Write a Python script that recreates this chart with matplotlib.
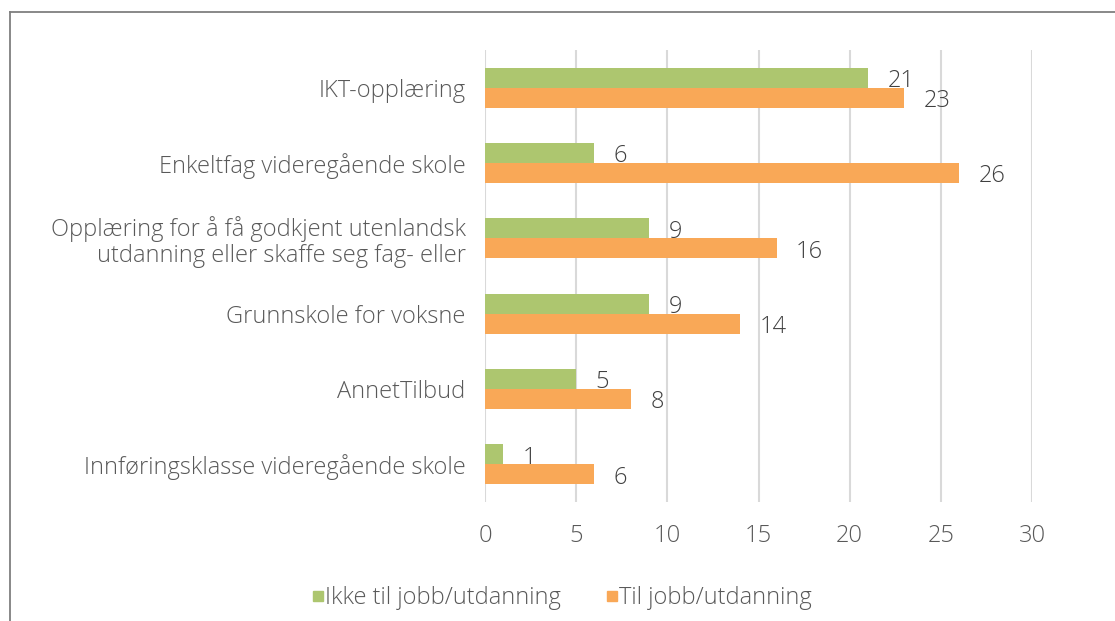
import numpy as np
import matplotlib
matplotlib.use('Agg')
import matplotlib.pyplot as plt
from matplotlib.lines import Line2D

matplotlib.rcParams['font.family'] = ['Open Sans', 'DejaVu Sans']

categories = ['IKT-opplæring',
              'Enkeltfag videregående skole',
              'Opplæring for å få godkjent utenlandsk\nutdanning eller skaffe seg fag- eller',
              'Grunnskole for voksne',
              'AnnetTilbud',
              'Innføringsklasse videregående skole']
ikke_til = [21, 6, 9, 9, 5, 1]
til_jobb = [23, 26, 16, 14, 8, 6]
series_names = ['Ikke til jobb/utdanning', 'Til jobb/utdanning']
xticks = [0, 5, 10, 15, 20, 25, 30]

green = '#adc66f'
orange = '#f9a857'
txt = '#595959'
grid_c = '#d9d9d9'
fs = 17

W, H = 1115, 621
F = plt.figure(figsize=(W/100., H/100.), dpi=100)
ax = F.add_axes([485./W, 1-502./H, (1032.-485.)/W, (502.-50.)/H])

y = np.arange(len(categories))
h = 0.265
b1 = ax.barh(y - h/2, ikke_til, height=h, color=green, zorder=3)
b2 = ax.barh(y + h/2, til_jobb, height=h, color=orange, zorder=3)

for bars, vals in [(b1, ikke_til), (b2, til_jobb)]:
    for r, v in zip(bars, vals):
        ax.annotate('{}'.format(v), (v, r.get_y() + r.get_height()/2),
                    xytext=(14, -2.5), textcoords='offset points',
                    ha='left', va='center', fontsize=fs, color='#404040',
                    fontweight='light')

ax.set_xlim(0, 30)
ax.set_ylim(len(categories) - 0.5, -0.5)
ax.set_xticks(xticks)
ax.set_yticks(y)
ax.set_yticklabels(categories, ha='right', multialignment='right',
                   linespacing=1.1)
ax.tick_params(axis='y', length=0, pad=14, labelsize=fs, labelcolor=txt)
ax.tick_params(axis='x', length=0, pad=16, labelsize=fs, labelcolor=txt)
for lab in ax.get_xticklabels() + ax.get_yticklabels():
    lab.set_fontweight('light')
ax.xaxis.grid(True, color=grid_c, linewidth=1.5, zorder=0)
for s in ax.spines.values():
    s.set_visible(False)

handles = [Line2D([], [], marker='s', linestyle='none', markersize=7.5,
                  color=c) for c in (green, orange)]
leg = F.legend(handles, series_names, loc='center', ncol=2,
               bbox_to_anchor=(562./W, 1-598./H), frameon=False,
               fontsize=fs, handlelength=0.5, handletextpad=0.05,
               columnspacing=1.9, labelcolor=txt)
for t in leg.get_texts():
    t.set_fontweight('light')

# outer frame
fr = dict(color='#7f7f7f', linewidth=1.3, transform=F.transFigure)
F.add_artist(Line2D([10./W, 1.], [1-12./H, 1-12./H], **fr))
F.add_artist(Line2D([10./W, 10./W], [1-12./H, 0.], **fr))

F.savefig('out.png', dpi=100)
